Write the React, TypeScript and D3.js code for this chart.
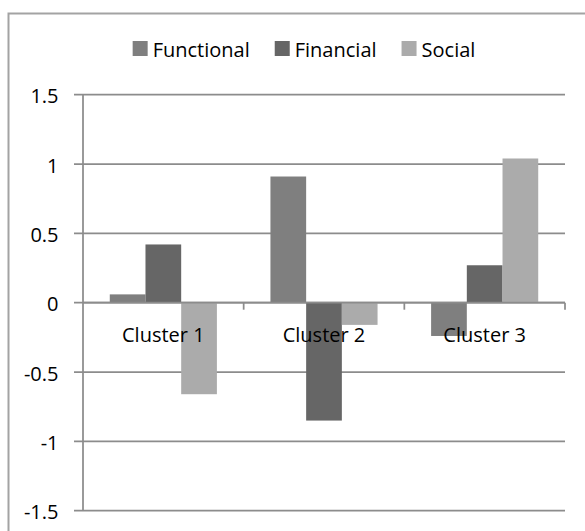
import React, { useEffect, useRef } from "react";
import * as d3 from "d3";

const clusters = ["Cluster 1", "Cluster 2", "Cluster 3"];
const seriesNames = ["Functional", "Financial", "Social"];
const functional = [0.06, 0.91, -0.24];
const financial = [0.42, -0.85, 0.27];
const social = [-0.66, -0.16, 1.04];
const yTicks = [-1.5, -1, -0.5, 0, 0.5, 1, 1.5];
const yTickLabels = ["-1.5", "-1", "-0.5", "0", "0.5", "1", "1.5"];

const colors = ["#7f7f7f", "#666666", "#ababab"];

const App = () => {
  const ref = useRef<SVGSVGElement>(null);

  const width = 585;
  const height = 531;
  const left = 83;
  const right = 565;
  const top = 94.7;
  const bottom = 510.7;
  const font = "'Open Sans', sans-serif";
  const fontSize = 20;

  useEffect(() => {
    const svg = d3.select(ref.current);
    svg.selectAll("*").remove();

    const values = [functional, financial, social];
    const rows = clusters.map((c, i) => ({
      cluster: c,
      vals: seriesNames.map((s, j) => ({ name: s, value: values[j][i], color: colors[j] })),
    }));

    const x0 = d3.scaleBand().domain(clusters).range([left, right]).padding(0);
    const x1 = d3
      .scaleBand()
      .domain(seriesNames)
      .range([0, x0.bandwidth()])
      .paddingInner(0)
      .paddingOuter(0.75);
    const y = d3.scaleLinear().domain([-1.5, 1.5]).range([bottom, top]);

    // outer frame (only top and left edges visible)
    svg
      .append("path")
      .attr("d", `M8.5,${height} V13.5 H${width}`)
      .attr("fill", "none")
      .attr("stroke", "#a3a3a3")
      .attr("stroke-width", 2);

    // gridlines + y tick marks
    svg
      .append("g")
      .selectAll("line")
      .data(yTicks)
      .join("line")
      .attr("x1", left - 9)
      .attr("x2", right)
      .attr("y1", (d) => y(d))
      .attr("y2", (d) => y(d))
      .attr("stroke", "#8c8c8c")
      .attr("stroke-width", 1.75);

    svg
      .append("g")
      .selectAll("text")
      .data(yTicks)
      .join("text")
      .attr("x", 58.5)
      .attr("y", (d) => y(d) + 8.6)
      .attr("text-anchor", "end")
      .attr("font-family", font)
      .attr("font-size", fontSize)
      .attr("fill", "#000")
      .text((d, i) => yTickLabels[i]);

    // bars
    const groups = svg
      .append("g")
      .selectAll("g")
      .data(rows)
      .join("g")
      .attr("transform", (d) => `translate(${x0(d.cluster)},0)`);

    groups
      .selectAll("rect")
      .data((d) => d.vals)
      .join("rect")
      .attr("x", (d) => x1(d.name))
      .attr("width", x1.bandwidth())
      .attr("y", (d) => y(Math.max(0, d.value)))
      .attr("height", (d) => Math.abs(y(d.value) - y(0)))
      .attr("fill", (d) => d.color);

    // y axis line
    svg
      .append("line")
      .attr("x1", left)
      .attr("x2", left)
      .attr("y1", top)
      .attr("y2", bottom)
      .attr("stroke", "#8c8c8c")
      .attr("stroke-width", 1.75);

    // x axis at zero
    svg
      .append("line")
      .attr("x1", left)
      .attr("x2", right)
      .attr("y1", y(0))
      .attr("y2", y(0))
      .attr("stroke", "#8c8c8c")
      .attr("stroke-width", 1.75);

    svg
      .append("g")
      .selectAll("line")
      .data(clusters)
      .join("line")
      .attr("x1", (d) => (x0(d) as number) + x0.bandwidth())
      .attr("x2", (d) => (x0(d) as number) + x0.bandwidth())
      .attr("y1", y(0))
      .attr("y2", y(0) + 7)
      .attr("stroke", "#8c8c8c")
      .attr("stroke-width", 1.75);

    svg
      .append("g")
      .selectAll("text")
      .data(clusters)
      .join("text")
      .attr("x", (d) => (x0(d) as number) + x0.bandwidth() / 2)
      .attr("y", 342)
      .attr("text-anchor", "middle")
      .attr("font-family", font)
      .attr("font-size", fontSize)
      .attr("fill", "#000")
      .text((d) => d);

    // legend
    const legend = svg.append("g");
    let cx = 0;
    seriesNames.forEach((s, i) => {
      legend
        .append("rect")
        .attr("x", cx)
        .attr("y", 41)
        .attr("width", 15)
        .attr("height", 15)
        .attr("fill", colors[i]);
      const t = legend
        .append("text")
        .attr("x", cx + 20)
        .attr("y", 56.5)
        .attr("font-family", font)
        .attr("font-size", fontSize)
        .attr("fill", "#000")
        .text(s);
      const w = (t.node() as SVGTextElement).getComputedTextLength();
      cx += 20 + w + 25;
    });
    const total = cx - 25;
    legend.attr("transform", `translate(${304 - total / 2},0)`);
  }, []);

  return (
    <svg
      ref={ref}
      width={width}
      height={height}
      style={{ position: "absolute", left: 0, top: 0, background: "#fff" }}
    />
  );
};

export default App;
